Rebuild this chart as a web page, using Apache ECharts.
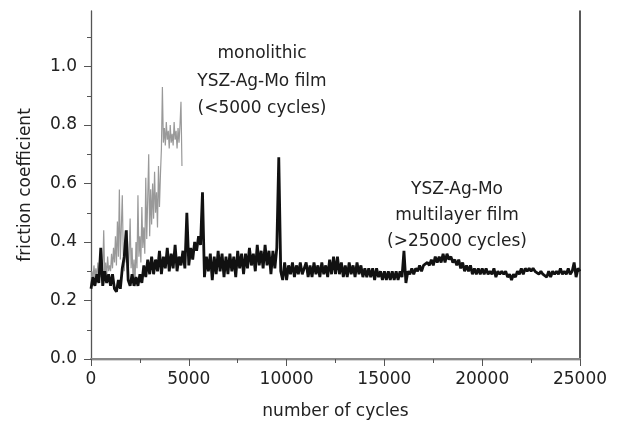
<!DOCTYPE html>
<html>
<head>
<meta charset="utf-8">
<script src="https://cdn.jsdelivr.net/npm/echarts@6/dist/echarts.min.js"></script>
<style>
  html, body { margin: 0; padding: 0; background: #fff; }
  #chart { width: 619px; height: 430px; }
</style>
</head>
<body>
<div id="chart"></div>
<script>
// multilayer film, one value every 100 cycles (0 .. 25000)
var multiStep = 100;
var multiCof = [
  0.24, 0.28, 0.25, 0.29, 0.26, 0.38, 0.25, 0.30, 0.26, 0.29,
  0.25, 0.29, 0.24, 0.23, 0.27, 0.24, 0.31, 0.35, 0.44, 0.27,
  0.25, 0.29, 0.25, 0.28, 0.25, 0.29, 0.26, 0.32, 0.28, 0.34,
  0.29, 0.35, 0.29, 0.34, 0.30, 0.37, 0.29, 0.35, 0.31, 0.38,
  0.30, 0.36, 0.31, 0.39, 0.30, 0.35, 0.32, 0.37, 0.31, 0.50,
  0.32, 0.38, 0.34, 0.40, 0.37, 0.42, 0.39, 0.57, 0.28, 0.35,
  0.30, 0.36, 0.27, 0.35, 0.29, 0.37, 0.30, 0.36, 0.28, 0.35,
  0.29, 0.36, 0.30, 0.35, 0.28, 0.37, 0.31, 0.36, 0.29, 0.36,
  0.31, 0.38, 0.32, 0.36, 0.30, 0.39, 0.32, 0.37, 0.31, 0.39,
  0.32, 0.37, 0.29, 0.37, 0.31, 0.38, 0.69, 0.30, 0.27, 0.33,
  0.27, 0.32, 0.29, 0.33, 0.28, 0.32, 0.29, 0.33, 0.29, 0.31,
  0.33, 0.28, 0.32, 0.28, 0.33, 0.29, 0.32, 0.28, 0.33, 0.29,
  0.32, 0.28, 0.34, 0.29, 0.35, 0.29, 0.35, 0.29, 0.33, 0.28,
  0.32, 0.28, 0.33, 0.29, 0.32, 0.28, 0.33, 0.29, 0.32, 0.28,
  0.31, 0.28, 0.31, 0.28, 0.31, 0.27, 0.31, 0.28, 0.30, 0.27,
  0.30, 0.27, 0.30, 0.27, 0.30, 0.27, 0.30, 0.27, 0.30, 0.28,
  0.37, 0.26, 0.30, 0.29, 0.31, 0.29, 0.31, 0.30, 0.32, 0.30,
  0.32, 0.32, 0.33, 0.32, 0.34, 0.32, 0.35, 0.33, 0.35, 0.33,
  0.36, 0.33, 0.36, 0.34, 0.35, 0.33, 0.34, 0.32, 0.34, 0.31,
  0.33, 0.30, 0.32, 0.30, 0.32, 0.29, 0.31, 0.29, 0.31, 0.29,
  0.31, 0.29, 0.31, 0.29, 0.30, 0.29, 0.31, 0.28, 0.30, 0.29,
  0.30, 0.29, 0.30, 0.28, 0.29, 0.27, 0.29, 0.28, 0.30, 0.29,
  0.31, 0.29, 0.31, 0.30, 0.31, 0.30, 0.31, 0.30, 0.30, 0.29,
  0.30, 0.29, 0.29, 0.28, 0.30, 0.28, 0.30, 0.29, 0.30, 0.29,
  0.31, 0.29, 0.30, 0.29, 0.31, 0.29, 0.30, 0.33, 0.28, 0.31,
  0.30
];

// monolithic film, one value every 50 cycles (0 .. 4650)
var monoStep = 50;
var monoCof = [
  0.25, 0.30, 0.27, 0.32, 0.28, 0.31, 0.27, 0.33, 0.29, 0.30,
  0.28, 0.34, 0.30, 0.44, 0.29, 0.33, 0.28, 0.35, 0.30, 0.32,
  0.30, 0.36, 0.31, 0.38, 0.33, 0.42, 0.32, 0.47, 0.35, 0.58,
  0.34, 0.45, 0.56, 0.36, 0.30, 0.40, 0.33, 0.44, 0.29, 0.36,
  0.48, 0.31, 0.38, 0.27, 0.34, 0.25, 0.40, 0.31, 0.56, 0.35,
  0.42, 0.33, 0.52, 0.38, 0.45, 0.36, 0.62, 0.41, 0.55, 0.70,
  0.42, 0.58, 0.46, 0.60, 0.48, 0.64, 0.50, 0.57, 0.45, 0.66,
  0.52, 0.63, 0.72, 0.93, 0.74, 0.79, 0.73, 0.81, 0.75, 0.78,
  0.72, 0.80, 0.74, 0.77, 0.73, 0.81, 0.75, 0.78, 0.72, 0.79,
  0.74, 0.80, 0.88, 0.66
];

var yMajor = [0, 0.2, 0.4, 0.6, 0.8, 1.0];
var yMinor = [0.1, 0.3, 0.5, 0.7, 0.9, 1.1];

function toPairs(step, arr) {
  return arr.map(function (v, i) { return [i * step, v]; });
}

var font = "'DejaVu Sans', sans-serif";
var dom = echarts.init(document.getElementById('chart'));

var option = {
  animation: false,
  backgroundColor: '#fff',
  grid: { left: 91, right: 39, top: 11, bottom: 71 },
  xAxis: [
    {
      type: 'value',
      min: 0,
      max: 25000,
      interval: 5000,
      name: 'number of cycles',
      nameLocation: 'middle',
      nameGap: 44,
      nameTextStyle: { fontFamily: font, fontSize: 17, color: '#222' },
      axisLine: { show: true, lineStyle: { color: '#555', width: 1.3 } },
      axisTick: { show: true, length: 7, lineStyle: { color: '#555' } },
      minorTick: { show: true, splitNumber: 2, length: 4, lineStyle: { color: '#555' } },
      axisLabel: {
        fontFamily: font, fontSize: 17, color: '#222', margin: 12,
        formatter: function (v) { return String(v); }
      },
      splitLine: { show: false }
    },
    {
      type: 'value',
      position: 'top',
      min: 0,
      max: 25000,
      axisLine: { show: true, lineStyle: { color: '#888', width: 2 } },
      axisTick: { show: false },
      axisLabel: { show: false },
      splitLine: { show: false }
    }
  ],
  yAxis: [
    {
      type: 'value',
      min: 0,
      max: 1.19,
      name: 'friction coefficient',
      nameLocation: 'middle',
      nameGap: 57,
      nameTextStyle: { fontFamily: font, fontSize: 17, color: '#222' },
      axisLine: { show: true, lineStyle: { color: '#555', width: 1.3 } },
      axisTick: { show: true, length: 7, customValues: yMajor, lineStyle: { color: '#555' } },
      axisLabel: {
        fontFamily: font, fontSize: 17, color: '#222', margin: 14,
        customValues: yMajor,
        formatter: function (v) { return v.toFixed(1); }
      },
      splitLine: { show: false }
    },
    {
      type: 'value',
      position: 'left',
      min: 0,
      max: 1.19,
      axisLine: { show: false },
      axisTick: { show: true, length: 4, customValues: yMinor, lineStyle: { color: '#555' } },
      axisLabel: { show: false },
      splitLine: { show: false }
    },
    {
      type: 'value',
      position: 'right',
      min: 0,
      max: 1.19,
      axisLine: { show: true, lineStyle: { color: '#222', width: 1.5 } },
      axisTick: { show: false },
      axisLabel: { show: false },
      splitLine: { show: false }
    }
  ],
  series: [
    {
      name: 'monolithic',
      type: 'line',
      data: toPairs(monoStep, monoCof),
      showSymbol: false,
      symbol: 'none',
      lineStyle: { color: '#999', width: 1.2 }
    },
    {
      name: 'multilayer',
      type: 'line',
      data: toPairs(multiStep, multiCof),
      showSymbol: false,
      symbol: 'none',
      lineStyle: { color: '#111', width: 2.8 }
    }
  ],
  graphic: [
    {
      type: 'text', x: 262, y: 40,
      style: {
        text: 'monolithic\nYSZ-Ag-Mo film\n(<5000 cycles)',
        font: '17px ' + font, fill: '#222',
        align: 'center', verticalAlign: 'top',
        textAlign: 'center', textVerticalAlign: 'top',
        lineHeight: 27.5
      }
    },
    {
      type: 'text', x: 457, y: 177,
      style: {
        text: 'YSZ-Ag-Mo\nmultilayer film\n(>25000 cycles)',
        font: '17px ' + font, fill: '#222',
        align: 'center', verticalAlign: 'top',
        textAlign: 'center', textVerticalAlign: 'top',
        lineHeight: 26
      }
    }
  ]
};

dom.setOption(option);
</script>
</body>
</html>
